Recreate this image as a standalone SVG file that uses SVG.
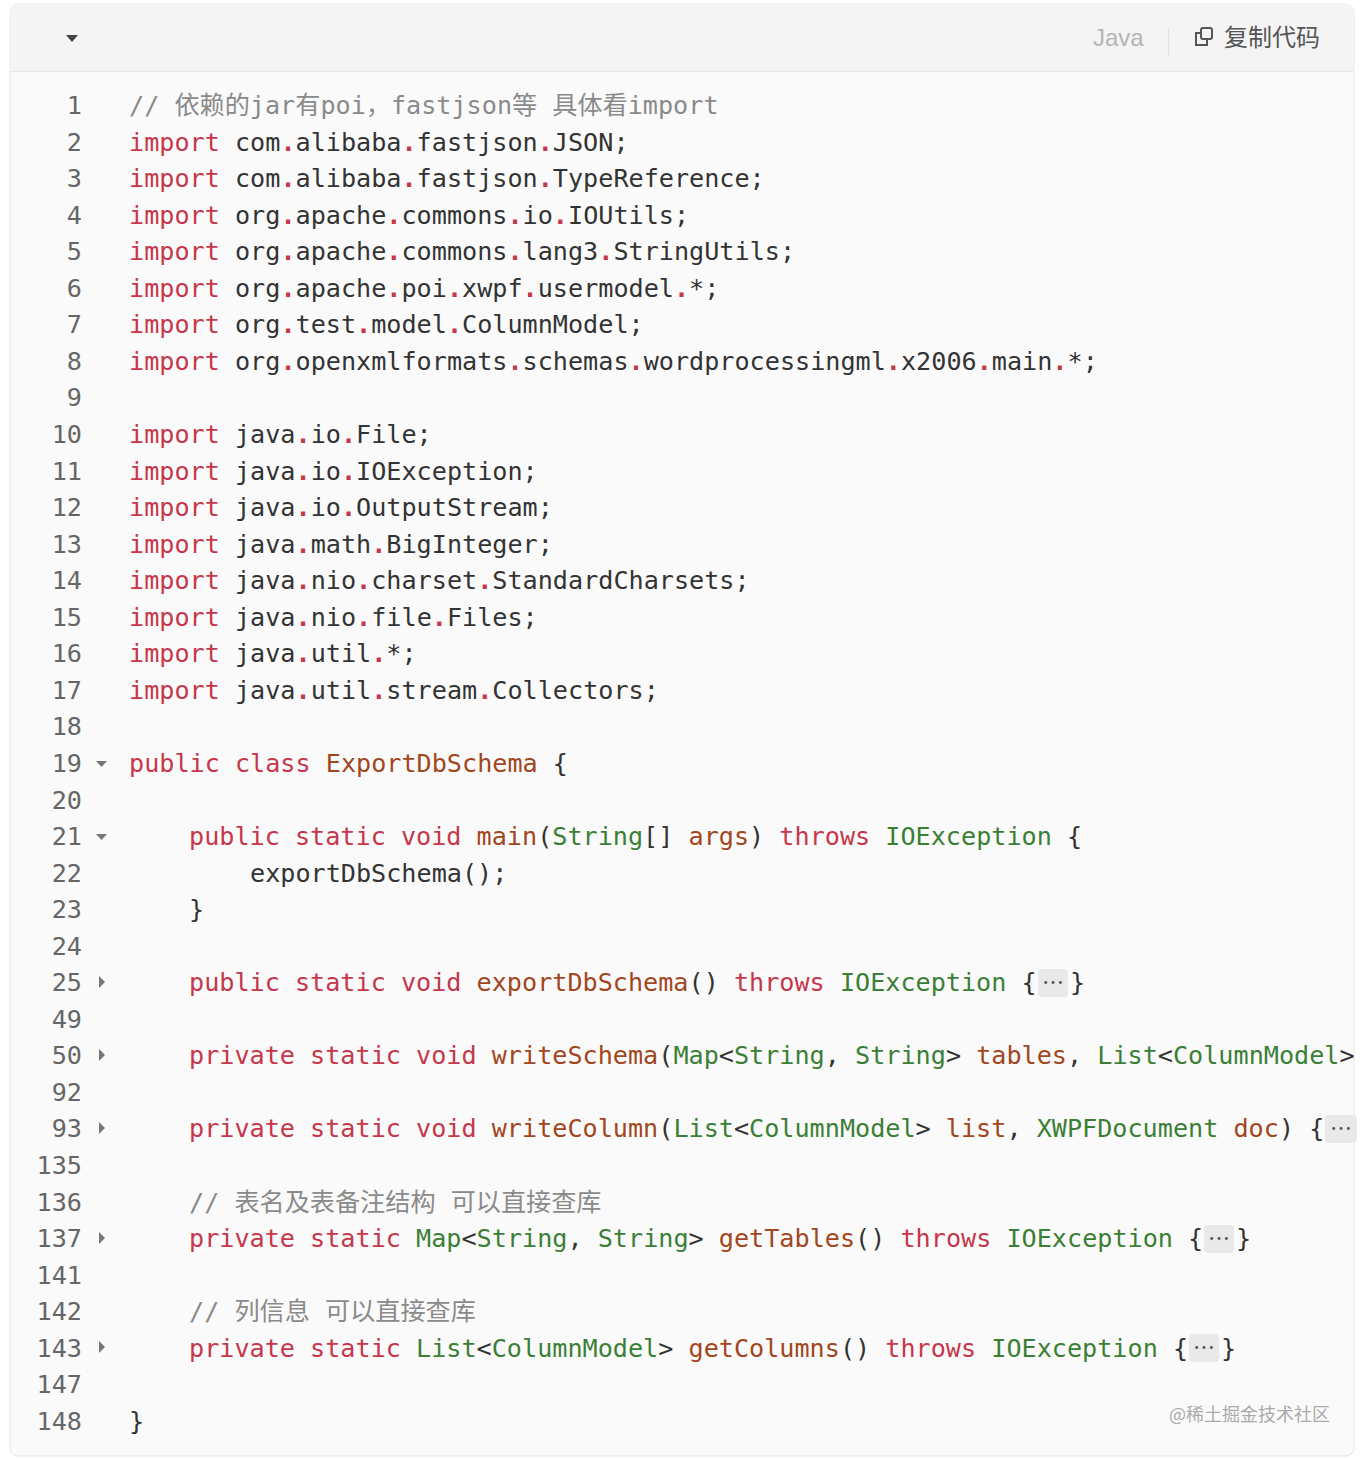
<svg xmlns="http://www.w3.org/2000/svg" width="1366" height="1460" viewBox="0 0 1366 1460">
<style>
.code{font-family:"DejaVu Sans Mono","Noto Sans CJK SC",monospace;font-size:25.15px;fill:#333;white-space:pre}
.num{font-family:"DejaVu Sans Mono",monospace;font-size:25.15px;fill:#666;text-anchor:end}
.k{fill:#c6374b}.f{fill:#a2461d}.t{fill:#3b7f36}.c{fill:#8a8a8a}.d{fill:#c6374b;font-weight:bold}
.pill{fill:#e9e9e9}
.fold{fill:#777}
.el{fill:#555;font-family:"Noto Sans CJK SC",sans-serif;font-size:22px}
</style>
<defs><clipPath id="clip"><rect x="10" y="72" width="1344" height="1384"/></clipPath></defs>
<rect x="0" y="0" width="1366" height="1460" fill="#ffffff"/>
<g id="panel">
<rect x="10" y="4" width="1344" height="1452" rx="8" fill="#fafafa" stroke="#e6e6e6"/>
<path d="M10 71 V12 a8 8 0 0 1 8 -8 H1346 a8 8 0 0 1 8 8 V71 Z" fill="#f4f4f4"/>
<line x1="10" y1="71.5" x2="1354" y2="71.5" stroke="#e6e6e6"/>
</g>
<g id="header">
<path d="M66 35 L78 35 L72 42 Z" fill="#444"/>
<text x="1093" y="46" font-family="Liberation Sans,Arial,sans-serif" font-size="24" fill="#b4b4b4">Java</text>
<line x1="1168.5" y1="28" x2="1168.5" y2="56" stroke="#e2e2e2"/>
<g fill="none" stroke="#555" stroke-width="2"><rect x="1201" y="28" width="11" height="11" rx="2"/><path d="M1201 33 h-5 v12 h11 v-6"/></g>
<text x="1224" y="46" font-family="Noto Sans CJK SC,sans-serif" font-size="24" fill="#555">复制代码</text>
</g>
<g id="pills">
<rect class="pill" x="1038" y="969" width="30" height="28" rx="4"/>
<rect class="pill" x="1325" y="1115" width="32" height="28" rx="4"/>
<rect class="pill" x="1204" y="1225" width="30" height="28" rx="4"/>
<rect class="pill" x="1189" y="1334" width="30" height="28" rx="4"/>
</g>
<g id="folds">
<path class="fold" d="M96 761 h11 l-5.5 6 z"/>
<path class="fold" d="M96 834 h11 l-5.5 6 z"/>
<path class="fold" d="M99 976 v12 l6 -6 z"/>
<path class="fold" d="M99 1049 v12 l6 -6 z"/>
<path class="fold" d="M99 1122 v12 l6 -6 z"/>
<path class="fold" d="M99 1232 v12 l6 -6 z"/>
<path class="fold" d="M99 1341 v12 l6 -6 z"/>
</g>
<g id="numbers">
<text class="num" x="82" y="114">1</text>
<text class="num" x="82" y="150.5">2</text>
<text class="num" x="82" y="187.1">3</text>
<text class="num" x="82" y="223.6">4</text>
<text class="num" x="82" y="260.2">5</text>
<text class="num" x="82" y="296.7">6</text>
<text class="num" x="82" y="333.3">7</text>
<text class="num" x="82" y="369.8">8</text>
<text class="num" x="82" y="406.4">9</text>
<text class="num" x="82" y="443">10</text>
<text class="num" x="82" y="479.5">11</text>
<text class="num" x="82" y="516">12</text>
<text class="num" x="82" y="552.6">13</text>
<text class="num" x="82" y="589.2">14</text>
<text class="num" x="82" y="625.7">15</text>
<text class="num" x="82" y="662.3">16</text>
<text class="num" x="82" y="698.8">17</text>
<text class="num" x="82" y="735.4">18</text>
<text class="num" x="82" y="771.9">19</text>
<text class="num" x="82" y="808.5">20</text>
<text class="num" x="82" y="845">21</text>
<text class="num" x="82" y="881.6">22</text>
<text class="num" x="82" y="918.1">23</text>
<text class="num" x="82" y="954.7">24</text>
<text class="num" x="82" y="991.2">25</text>
<text class="num" x="82" y="1027.8">49</text>
<text class="num" x="82" y="1064.3">50</text>
<text class="num" x="82" y="1100.9">92</text>
<text class="num" x="82" y="1137.4">93</text>
<text class="num" x="82" y="1174">135</text>
<text class="num" x="82" y="1210.5">136</text>
<text class="num" x="82" y="1247.1">137</text>
<text class="num" x="82" y="1283.6">141</text>
<text class="num" x="82" y="1320.2">142</text>
<text class="num" x="82" y="1356.7">143</text>
<text class="num" x="82" y="1393.3">147</text>
<text class="num" x="82" y="1429.8">148</text>
</g>
<g id="code" clip-path="url(#clip)" xml:space="preserve">
<text class="code" x="129" y="114"><tspan class="c">// 依赖的jar有poi，fastjson等 具体看import</tspan></text>
<text class="code" x="129" y="150.5"><tspan class="k">import</tspan> com<tspan class="d">.</tspan>alibaba<tspan class="d">.</tspan>fastjson<tspan class="d">.</tspan>JSON;</text>
<text class="code" x="129" y="187.1"><tspan class="k">import</tspan> com<tspan class="d">.</tspan>alibaba<tspan class="d">.</tspan>fastjson<tspan class="d">.</tspan>TypeReference;</text>
<text class="code" x="129" y="223.6"><tspan class="k">import</tspan> org<tspan class="d">.</tspan>apache<tspan class="d">.</tspan>commons<tspan class="d">.</tspan>io<tspan class="d">.</tspan>IOUtils;</text>
<text class="code" x="129" y="260.2"><tspan class="k">import</tspan> org<tspan class="d">.</tspan>apache<tspan class="d">.</tspan>commons<tspan class="d">.</tspan>lang3<tspan class="d">.</tspan>StringUtils;</text>
<text class="code" x="129" y="296.7"><tspan class="k">import</tspan> org<tspan class="d">.</tspan>apache<tspan class="d">.</tspan>poi<tspan class="d">.</tspan>xwpf<tspan class="d">.</tspan>usermodel<tspan class="d">.</tspan>*;</text>
<text class="code" x="129" y="333.3"><tspan class="k">import</tspan> org<tspan class="d">.</tspan>test<tspan class="d">.</tspan>model<tspan class="d">.</tspan>ColumnModel;</text>
<text class="code" x="129" y="369.8"><tspan class="k">import</tspan> org<tspan class="d">.</tspan>openxmlformats<tspan class="d">.</tspan>schemas<tspan class="d">.</tspan>wordprocessingml<tspan class="d">.</tspan>x2006<tspan class="d">.</tspan>main<tspan class="d">.</tspan>*;</text>
<text class="code" x="129" y="443"><tspan class="k">import</tspan> java<tspan class="d">.</tspan>io<tspan class="d">.</tspan>File;</text>
<text class="code" x="129" y="479.5"><tspan class="k">import</tspan> java<tspan class="d">.</tspan>io<tspan class="d">.</tspan>IOException;</text>
<text class="code" x="129" y="516"><tspan class="k">import</tspan> java<tspan class="d">.</tspan>io<tspan class="d">.</tspan>OutputStream;</text>
<text class="code" x="129" y="552.6"><tspan class="k">import</tspan> java<tspan class="d">.</tspan>math<tspan class="d">.</tspan>BigInteger;</text>
<text class="code" x="129" y="589.2"><tspan class="k">import</tspan> java<tspan class="d">.</tspan>nio<tspan class="d">.</tspan>charset<tspan class="d">.</tspan>StandardCharsets;</text>
<text class="code" x="129" y="625.7"><tspan class="k">import</tspan> java<tspan class="d">.</tspan>nio<tspan class="d">.</tspan>file<tspan class="d">.</tspan>Files;</text>
<text class="code" x="129" y="662.3"><tspan class="k">import</tspan> java<tspan class="d">.</tspan>util<tspan class="d">.</tspan>*;</text>
<text class="code" x="129" y="698.8"><tspan class="k">import</tspan> java<tspan class="d">.</tspan>util<tspan class="d">.</tspan>stream<tspan class="d">.</tspan>Collectors;</text>
<text class="code" x="129" y="771.9"><tspan class="k">public class</tspan> <tspan class="f">ExportDbSchema</tspan> {</text>
<text class="code" x="189" y="845"><tspan class="k">public static void</tspan> <tspan class="f">main</tspan>(<tspan class="t">String</tspan>[] <tspan class="f">args</tspan>) <tspan class="k">throws</tspan> <tspan class="t">IOException</tspan> {</text>
<text class="code" x="250" y="881.6">exportDbSchema();</text>
<text class="code" x="189" y="918.1">}</text>
<text class="code" x="189" y="991.2"><tspan class="k">public static void</tspan> <tspan class="f">exportDbSchema</tspan>() <tspan class="k">throws</tspan> <tspan class="t">IOException</tspan> {</text>
<text class="code" x="189" y="1064.3"><tspan class="k">private static void</tspan> <tspan class="f">writeSchema</tspan>(<tspan class="t">Map</tspan>&lt;<tspan class="t">String</tspan>, <tspan class="t">String</tspan>&gt; <tspan class="f">tables</tspan>, <tspan class="t">List</tspan>&lt;<tspan class="t">ColumnModel</tspan>&gt;</text>
<text class="code" x="189" y="1137.4"><tspan class="k">private static void</tspan> <tspan class="f">writeColumn</tspan>(<tspan class="t">List</tspan>&lt;<tspan class="t">ColumnModel</tspan>&gt; <tspan class="f">list</tspan>, <tspan class="t">XWPFDocument</tspan> <tspan class="f">doc</tspan>) {</text>
<text class="code" x="189" y="1210.5"><tspan class="c">// 表名及表备注结构 可以直接查库</tspan></text>
<text class="code" x="189" y="1247.1"><tspan class="k">private static</tspan> <tspan class="t">Map</tspan>&lt;<tspan class="t">String</tspan>, <tspan class="t">String</tspan>&gt; <tspan class="f">getTables</tspan>() <tspan class="k">throws</tspan> <tspan class="t">IOException</tspan> {</text>
<text class="code" x="189" y="1320.2"><tspan class="c">// 列信息 可以直接查库</tspan></text>
<text class="code" x="189" y="1356.7"><tspan class="k">private static</tspan> <tspan class="t">List</tspan>&lt;<tspan class="t">ColumnModel</tspan>&gt; <tspan class="f">getColumns</tspan>() <tspan class="k">throws</tspan> <tspan class="t">IOException</tspan> {</text>
<text class="code" x="129" y="1429.8">}</text>
<text class="el" x="1053" y="990" text-anchor="middle">…</text>
<text class="code" x="1070" y="991.2">}</text>
<text class="el" x="1341" y="1136" text-anchor="middle">…</text>
<text class="el" x="1219" y="1246" text-anchor="middle">…</text>
<text class="code" x="1236" y="1247.1">}</text>
<text class="el" x="1204" y="1355" text-anchor="middle">…</text>
<text class="code" x="1221" y="1356.7">}</text>
</g>
<text x="1330" y="1421" text-anchor="end" font-family="Noto Sans CJK SC,sans-serif" font-size="18" fill="#aaa">@稀土掘金技术社区</text>
</svg>
